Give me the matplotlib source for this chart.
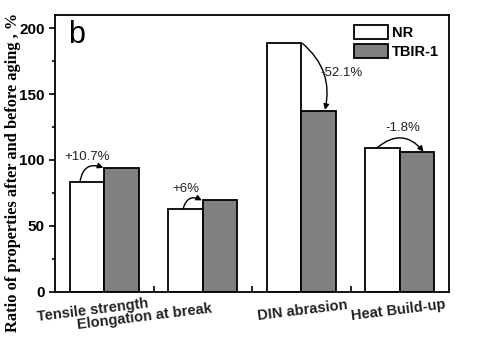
import numpy as np
from matplotlib import pyplot as plt
from matplotlib.ticker import MultipleLocator, FixedLocator

properties = ["Tensile strength", "Elongation at break", "DIN abrasion", "Heat Build-up"]
nr = [83.5, 63.1, 188.4, 109.3]
tbir = [94.2, 69.4, 137.1, 106.3]
changes = ["+10.7%", "+6%", "-52.1%", "-1.8%"]

plt.rcParams["font.family"] = ["Liberation Sans", "DejaVu Sans"]
fig = plt.figure(figsize=(4.83, 3.47), dpi=100)
ax = fig.add_axes([0.114, 0.159, 0.816, 0.798])

x = np.arange(1, len(properties) + 1)
w = 0.35
b_nr = ax.bar(x - w / 2, nr, w, color="white", edgecolor="black", linewidth=1.3, label="NR")
b_tb = ax.bar(x + w / 2, tbir, w, color="#808080", edgecolor="black", linewidth=1.3, label="TBIR-1")

ax.set_xlim(0.5, 4.5)
ax.set_ylim(0, 210)
ax.yaxis.set_major_locator(MultipleLocator(50))
ax.yaxis.set_minor_locator(MultipleLocator(25))
ax.tick_params(axis="y", which="major", direction="out", length=4, width=1.2, labelsize=11)
ax.tick_params(axis="y", which="minor", direction="out", length=2, width=1.2)
for lab in ax.get_yticklabels():
    lab.set_fontweight("bold")

# small ticks between the groups, no labels
ax.xaxis.set_major_locator(FixedLocator([1.5, 2.5, 3.5]))
ax.set_xticklabels([])
ax.tick_params(axis="x", direction="in", length=4, width=1.2)
for s in ax.spines.values():
    s.set_linewidth(1.3)

# category names under the axis, slightly tilted
label_pos = [(0.87, -9), (1.4, -14), (3.0, -9), (3.98, -9)]
for name, (lx, ly) in zip(properties, label_pos):
    ax.text(lx, ly, name, ha="center", va="top", rotation=7, fontsize=10.5,
            fontweight="bold", color="#222222", rotation_mode="anchor")

ax.text(0.63, 195, "b", fontsize=22, va="center")

ax.set_ylabel("Ratio of properties after and before aging , %", family=["Liberation Serif"],
              fontweight="bold", fontsize=11.8)
ax.yaxis.set_label_coords(-0.086, 0.43)

# percentage change arrows between the two bars
arrows = [
    ((0.754, 83.5), (0.99, 94.2), (0.825, 102), -0.6),
    ((1.80, 63.1), (1.99, 69.4), (1.83, 78), -0.6),
    ((3.01, 188.4), (3.24, 138.0), (3.41, 166), -0.3),
    ((3.77, 109.3), (4.24, 106.3), (4.03, 124), -0.5),
]
for txt, (start, end, tpos, rad) in zip(changes, arrows):
    ax.annotate("", xy=end, xytext=start,
                arrowprops=dict(arrowstyle="-|>", color="black", lw=1.0,
                                mutation_scale=8, shrinkA=0, shrinkB=0,
                                connectionstyle=f"arc3,rad={rad}"))
    ax.text(tpos[0], tpos[1], txt, ha="center", va="center", fontsize=9.5, color="#222222")

ax.legend(handles=[b_nr, b_tb], loc="upper right", frameon=False,
          prop={"weight": "bold", "size": 10.5}, handlelength=2.3, handleheight=1.1,
          borderaxespad=0.3, handletextpad=0.3, labelspacing=0.3, bbox_to_anchor=(1.0, 1.0))

fig.savefig("out.png", dpi=100)
